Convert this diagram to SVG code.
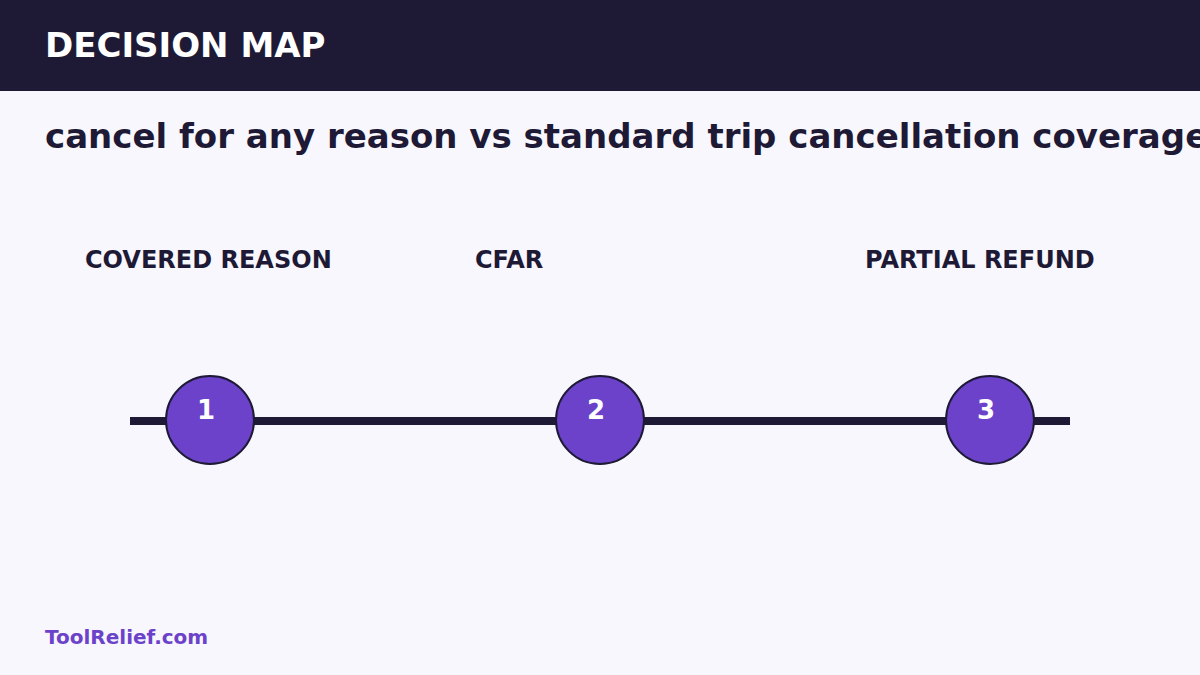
<svg xmlns="http://www.w3.org/2000/svg" width="1200" height="675" viewBox="0 0 1200 675">
<style>
text{font-family:"DejaVu Sans","Liberation Sans",sans-serif;font-weight:bold}
.lbl{font-size:24px;fill:#1e1a36}
.num{font-size:26px;fill:#ffffff;text-anchor:middle}
.dot{fill:#6b42c9;stroke:#1e1a36;stroke-width:2}
</style>
<rect width="1200" height="675" fill="#f8f7fe"/>
<rect width="1200" height="91" fill="#1e1a36"/>
<text x="45" y="57" font-size="34" fill="#ffffff">DECISION MAP</text>
<text x="45" y="148" font-size="34" fill="#1e1a36">cancel for any reason vs standard trip cancellation coverage</text>
<g id="connectors">
<line x1="130" y1="421" x2="1070" y2="421" stroke="#1e1a36" stroke-width="8"/>
</g>
<g id="node1">
<text class="lbl" x="85" y="268">COVERED REASON</text>
<circle class="dot" cx="210" cy="420" r="44"/>
<text class="num" x="206" y="419">1</text>
</g>
<g id="node2">
<text class="lbl" x="475" y="268">CFAR</text>
<circle class="dot" cx="600" cy="420" r="44"/>
<text class="num" x="596" y="419">2</text>
</g>
<g id="node3">
<text class="lbl" x="865" y="268">PARTIAL REFUND</text>
<circle class="dot" cx="990" cy="420" r="44"/>
<text class="num" x="986" y="419">3</text>
</g>
<text x="45" y="644" font-size="20" fill="#6b42c9">ToolRelief.com</text>
</svg>
